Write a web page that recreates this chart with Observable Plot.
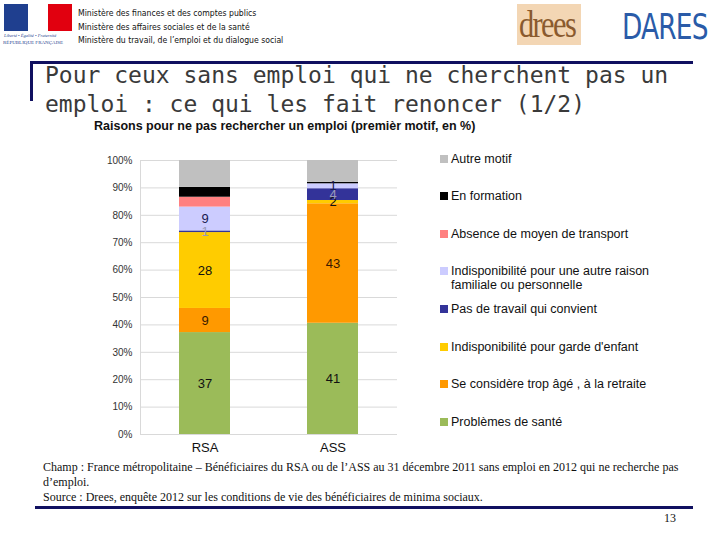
<!DOCTYPE html>
<html><head><meta charset="utf-8">
<script src="https://cdn.jsdelivr.net/npm/d3@7"></script>
<script src="https://cdn.jsdelivr.net/npm/@observablehq/plot@0.6"></script>
<style>
html,body{margin:0;padding:0;background:#fff;}
body{width:720px;height:540px;position:relative;overflow:hidden;font-family:Arial,"Liberation Sans",sans-serif;}
.abs{position:absolute;}
.min{font-size:8.6px;color:#111;left:78px;font-family:"DejaVu Sans Condensed","DejaVu Sans",sans-serif;white-space:nowrap;}
.title{left:45px;top:61px;font-family:"DejaVu Sans Mono",monospace;font-size:23px;line-height:29px;color:#3a3a3a;white-space:nowrap;}
.leg{left:440px;font-size:12.5px;color:#111;line-height:14px;}
.leg .sw{position:absolute;left:0;top:3px;width:8px;height:8px;}
.leg .tx{position:absolute;left:11px;top:0;white-space:nowrap;}
.foot{left:43px;font-family:"Liberation Serif","Times New Roman",serif;font-size:12px;color:#111;white-space:nowrap;}
</style></head>
<body>
<!-- Marianne logo approximation -->
<div class="abs" style="left:4px;top:4px;width:24px;height:27px;background:#1f3f8f;"></div>
<div class="abs" style="left:28px;top:4px;width:20px;height:27px;background:#fff;"></div>
<div class="abs" style="left:48px;top:4px;width:24px;height:27px;background:#e1000f;"></div>
<div class="abs" style="left:4px;top:33px;font-size:4.5px;color:#1f3f8f;font-style:italic;white-space:nowrap;font-family:'Liberation Serif',serif;">Liberté • Égalité • Fraternité</div>
<div class="abs" style="left:3px;top:40px;font-size:5px;color:#1f3f8f;white-space:nowrap;font-family:'Liberation Serif',serif;">RÉPUBLIQUE FRANÇAISE</div>
<div class="abs min" style="top:8px;">Ministère des finances et des comptes publics</div>
<div class="abs min" style="top:22px;">Ministère des affaires sociales et de la santé</div>
<div class="abs min" style="top:35px;">Ministère du travail, de l’emploi et du dialogue social</div>
<!-- drees / DARES -->
<div class="abs" style="left:517px;top:4px;width:64px;height:41px;background:#f3d6b4;"></div>
<div class="abs" style="left:519px;top:2px;font-family:'Liberation Serif',serif;font-size:38px;color:#8a5a2e;letter-spacing:-2px;transform:scaleX(0.8);transform-origin:left;">drees</div>
<div class="abs" style="left:622px;top:7px;font-family:'Liberation Sans Narrow','DejaVu Sans Condensed',sans-serif;font-size:35px;color:#2a5ba8;transform:scaleX(0.84);transform-origin:left;letter-spacing:-1px;">DARES</div>
<!-- rules -->
<div class="abs" style="left:30px;top:61px;width:663px;height:3px;background:#101060;"></div>
<div class="abs" style="left:30px;top:61px;width:3px;height:40px;background:#101060;"></div>
<div class="abs title">Pour ceux sans emploi qui ne cherchent pas un<br>emploi : ce qui les fait renoncer (1/2)</div>
<div class="abs" style="left:94px;top:119px;font-weight:bold;font-size:12.5px;color:#111;white-space:nowrap;">Raisons pour ne pas rechercher un emploi (premièr motif, en %)</div>
<div id="chart" class="abs" style="left:90px;top:145px;"></div>
<div id="legend"></div>
<div class="abs foot" style="top:460px;">Champ : France métropolitaine – Bénéficiaires du RSA ou de l’ASS au 31 décembre 2011 sans emploi en 2012 qui ne recherche pas</div>
<div class="abs foot" style="top:475px;">d’emploi.</div>
<div class="abs foot" style="top:490px;">Source : Drees, enquête 2012 sur les conditions de vie des bénéficiaires de minima sociaux.</div>
<div class="abs" style="left:35px;top:506px;width:658px;height:3px;background:#101060;"></div>
<div class="abs foot" style="left:664px;top:511px;">13</div>
<script>
const categories = ["RSA", "ASS"];
const motifs = [
  "Problèmes de santé",
  "Se considère trop âgé , à la retraite",
  "Indisponibilité pour garde d'enfant",
  "Pas de travail qui convient",
  "Indisponibilité pour une autre raison familiale ou personnelle",
  "Absence de moyen de transport",
  "En formation",
  "Autre motif"
];
const rsaValues = [37.2, 8.8, 27.7, 0.6, 8.7, 3.6, 3.6, 9.8];
const assValues = [40.6, 43.6, 1.2, 4.3, 1.8, 0, 0.5, 8.0];
const rsaLabels = ["37", "9", "28", "1", "9", "", "", ""];
const assLabels = ["41", "43", "2", "4", "1", "", "", ""];
const yTicks = [0, 10, 20, 30, 40, 50, 60, 70, 80, 90, 100];

const colors = ["#9bbb59", "#ff9900", "#ffcc00", "#333399", "#ccccff", "#ff8080", "#000000", "#c0c0c0"];
const labelColors = ["#111", "#3a1a00", "#111", "#9a9ab8", "#1a1a50", "#111", "#111", "#111"];

const rows = [];
[[categories[0], rsaValues, rsaLabels], [categories[1], assValues, assLabels]].forEach(([cat, vals, labs]) => {
  let acc = 0;
  vals.forEach((v, i) => {
    rows.push({cat, motif: motifs[i], value: v, y1: acc, y2: acc + v, mid: acc + v / 2, label: labs[i], lc: labelColors[i]});
    acc += v;
  });
});

const plot = Plot.plot({
  width: 320,
  height: 314,
  marginLeft: 50,
  marginRight: 13,
  marginTop: 15,
  marginBottom: 25,
  style: {fontFamily: "Arial, 'Liberation Sans', sans-serif", background: "transparent"},
  x: {domain: categories, paddingInner: 0.6, paddingOuter: 0.3, label: null, tickSize: 0},
  y: {domain: [0, 100], ticks: yTicks, tickFormat: d => d + "%", label: null, tickSize: 0},
  color: {domain: motifs, range: colors},
  marks: [
    Plot.ruleY(yTicks, {stroke: "#d9d9d9", strokeWidth: 1}),
    Plot.rectY(rows, {x: "cat", y1: "y1", y2: "y2", fill: "motif"}),
    Plot.text(rows.filter(d => d.label), {x: "cat", y: "mid", text: "label", fill: "lc", fontSize: 13}),
    Plot.axisY({ticks: yTicks, tickFormat: d => d + "%", tickSize: 0, tickPadding: 8, fontSize: 10, color: "#333"}),
    Plot.axisX({tickSize: 0, tickPadding: 8, fontSize: 13, color: "#111"})
  ]
});
document.getElementById("chart").appendChild(plot);

// vertical axis line at left of plot area
const svg = d3.select(plot);
svg.append("line").attr("x1", 50.5).attr("x2", 50.5).attr("y1", 15).attr("y2", 289).attr("stroke", "#d9d9d9");

// legend
const legendTops = [152, 189, 227, 264, 302, 340, 377, 415];
const legendNames = [...motifs].reverse();
const legendColors = [...colors].reverse();
const lg = document.getElementById("legend");
legendNames.forEach((name, i) => {
  const div = document.createElement("div");
  div.className = "abs leg";
  div.style.top = legendTops[i] + "px";
  const sw = document.createElement("div");
  sw.className = "sw";
  sw.style.background = legendColors[i];
  const tx = document.createElement("div");
  tx.className = "tx";
  tx.innerHTML = name === "Indisponibilité pour une autre raison familiale ou personnelle"
    ? "Indisponibilité pour une autre raison<br>familiale ou personnelle" : name;
  div.appendChild(sw); div.appendChild(tx);
  lg.appendChild(div);
});
</script>
</body></html>
